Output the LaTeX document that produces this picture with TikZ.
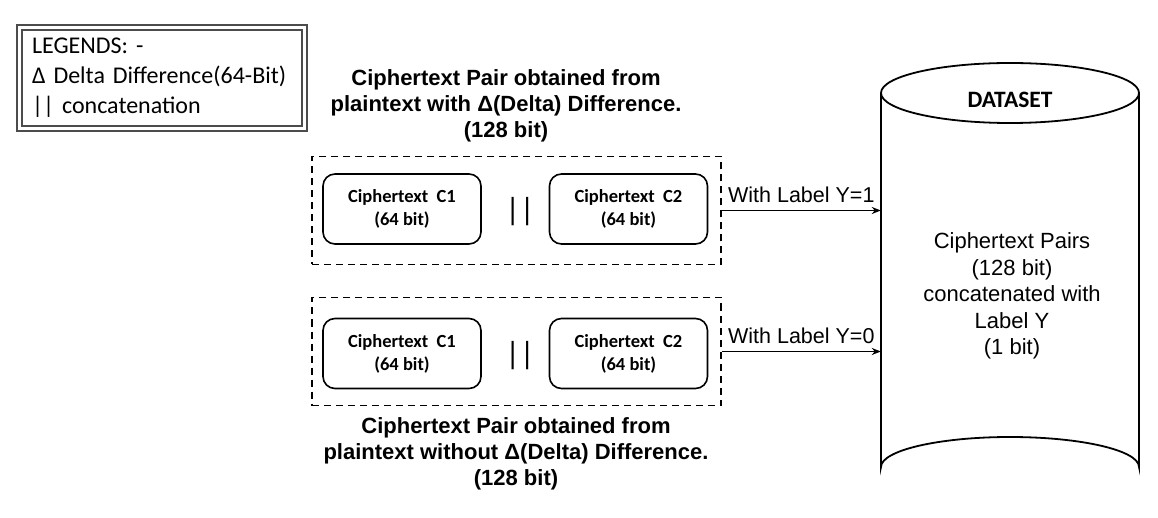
\documentclass[tikz,border=0pt]{standalone}
\usepackage{fontspec}
\setmainfont{Liberation Sans}
\newfontfamily\calfont{Carlito}
\usetikzlibrary{arrows.meta}
\begin{document}
\begin{tikzpicture}[x=1pt,y=-1pt,
  lw/.style={line width=1.8pt},
  dashbox/.style={draw, line width=1.6pt, dash pattern=on 7pt off 5pt, minimum width=409, minimum height=108, inner sep=0},
  cbox/.style={draw, line width=1.6pt, rounded corners=12pt, minimum width=158, minimum height=70, align=center, font=\calfont\bfseries\fontsize{18.5}{23}\selectfont},
  cat/.style={font=\calfont\fontsize{32}{32}\selectfont},
  title/.style={align=center, font=\bfseries\fontsize{22}{26}\selectfont},
  arr/.style={line width=1.6pt, -{Stealth[length=9pt,width=7pt]}},
  alabel/.style={font=\fontsize{21.5}{24}\selectfont, inner sep=1.5pt, yshift=5pt}
]
\useasboundingbox (0,0) rectangle (1158,518);

% legend
\node (legend) [draw=black!70, line width=1.4pt, double, double distance=3.6pt,
  minimum width=285, minimum height=101, inner sep=0, text width=260, align=left,
  font=\calfont\fontsize{24}{30}\selectfont] at (162,78)
  {LEGENDS: -\\ Δ Delta Difference(64-Bit)\\ || concatenation};

% top group
\node (ttitle) [title] at (506,106) {Ciphertext Pair obtained from\\ plaintext with Δ(Delta) Difference.\\ (128 bit)};
\node (tbox) [dashbox] at (516.5,210.5) {};
\node (tc1) [cbox] at (402,209) {Ciphertext\ \ C1\\ (64 bit)};
\node (tc2) [cbox] at (628.5,209) {Ciphertext\ \ C2\\ (64 bit)};
\node (tcat) [cat] at (520,212) {||};

% bottom group
\node (bbox) [dashbox] at (516.5,351.5) {};
\node (bc1) [cbox] at (402,353.5) {Ciphertext\ \ C1\\ (64 bit)};
\node (bc2) [cbox] at (628.5,353.5) {Ciphertext\ \ C2\\ (64 bit)};
\node (bcat) [cat] at (520,356) {||};
\node (btitle) [title] at (516,454) {Ciphertext Pair obtained from\\ plaintext without Δ(Delta) Difference.\\ (128 bit)};

% cylinder
\draw[lw] (881,93) arc[start angle=180, end angle=360, x radius=129, y radius=30]
          arc[start angle=0, end angle=180, x radius=129, y radius=30] -- cycle;
\draw[lw] (881,93) -- (881,467) arc[start angle=180, end angle=360, x radius=129, y radius=30] -- (1139,93);
\node (db) [minimum width=258, minimum height=374, inner sep=0] at (1010,280) {};
\node (dbtitle) [font=\calfont\bfseries\fontsize{23.5}{24}\selectfont] at (1010,100) {DATASET};
\node (dbtext) [align=center, font=\fontsize{22}{26.5}\selectfont] at (1012,296)
  {Ciphertext Pairs\\ (128 bit)\\ concatenated with\\ Label Y\\ (1 bit)};

% arrows
\draw[arr] (tbox.east) -- node[above, alabel] {With Label Y=1} (tbox.east -| db.west);
\draw[arr] (bbox.east) -- node[above, alabel] {With Label Y=0} (bbox.east -| db.west);
\end{tikzpicture}
\end{document}
